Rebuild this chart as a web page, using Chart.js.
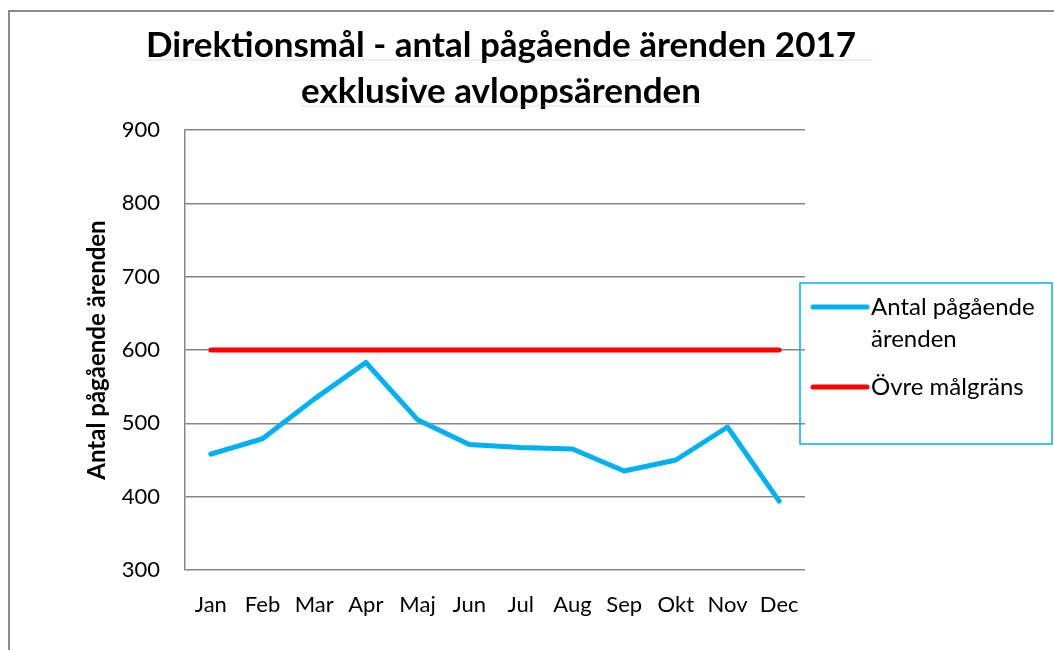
<!DOCTYPE html>
<html>
<head>
<meta charset="utf-8">
<script src="https://cdn.jsdelivr.net/npm/chart.js@4/dist/chart.umd.min.js"></script>
<style>
  html, body { margin: 0; padding: 0; background: #fff; }
  #wrap { width: 1054px; height: 650px; position: relative; }
</style>
</head>
<body>
<div id="wrap"><canvas id="arenden-chart"></canvas></div>
<script>
const months = ['Jan', 'Feb', 'Mar', 'Apr', 'Maj', 'Jun', 'Jul', 'Aug', 'Sep', 'Okt', 'Nov', 'Dec'];
const antalPagaende = [458, 479, 533, 583, 505, 471, 467, 465, 435, 450, 495, 394];
const ovreMalgrans = [600, 600, 600, 600, 600, 600, 600, 600, 600, 600, 600, 600];
const titleLines = ['Direktionsmål - antal pågående ärenden 2017', 'exklusive avloppsärenden'];
const yTitle = 'Antal pågående ärenden';

const FONT = 'Lato, Calibri, "Open Sans", sans-serif';

// white background + the grey frame around the whole chart
const framePlugin = {
  id: 'frame',
  beforeDraw(chart) {
    const ctx = chart.ctx;
    ctx.save();
    ctx.fillStyle = '#fff';
    ctx.fillRect(0, 0, chart.width, chart.height);
    ctx.strokeStyle = '#8c8c8c';
    ctx.lineWidth = 2;
    ctx.beginPath();
    ctx.moveTo(9, chart.height);
    ctx.lineTo(9, 11);
    ctx.lineTo(chart.width, 11);
    ctx.stroke();
    ctx.restore();
  }
};

// two line title, centred a bit left of the canvas centre (the chart's own title squeezes it)
const titlePlugin = {
  id: 'bigTitle',
  afterDraw(chart) {
    const ctx = chart.ctx;
    const cx = 501;
    ctx.save();
    ctx.font = 'bold 35px ' + FONT;
    ctx.fillStyle = '#000';
    ctx.textAlign = 'center';
    ctx.textBaseline = 'alphabetic';
    titleLines.forEach((t, i) => {
      const by = 57 + i * 46;
      ctx.fillText(t, cx, by);
      // faint spell-check underline seen in the original
      const tw = ctx.measureText(t).width;
      ctx.strokeStyle = 'rgba(230,120,120,0.35)';
      ctx.lineWidth = 1;
      ctx.beginPath();
      ctx.moveTo(cx - tw / 2, by + 3);
      ctx.lineTo(cx + tw / 2 + (i === 0 ? 16 : 0), by + 3);
      ctx.stroke();
    });
    ctx.restore();
  }
};

// legend box to the right, with word wrapped labels
const boxLegend = {
  id: 'boxLegend',
  afterDraw(chart) {
    const ctx = chart.ctx;
    const a = chart.chartArea;
    const x = a.right - 5, y = 283, w = 252, h = 161;
    ctx.save();
    ctx.strokeStyle = '#00b0f0';
    ctx.lineWidth = 1.5;
    ctx.strokeRect(x, y, w, h);
    ctx.font = '24px ' + FONT;
    ctx.fillStyle = '#000';
    ctx.textBaseline = 'middle';
    let ly = y + 24;
    chart.data.datasets.forEach(ds => {
      ctx.strokeStyle = ds.borderColor;
      ctx.lineWidth = 5;
      ctx.lineCap = 'round';
      ctx.beginPath();
      ctx.moveTo(x + 13, ly);
      ctx.lineTo(x + 67, ly);
      ctx.stroke();
      // wrap words
      const words = ds.label.split(' ');
      const lines = [];
      let cur = '';
      words.forEach(wd => {
        const t = cur ? cur + ' ' + wd : wd;
        if (ctx.measureText(t).width > w - 76 && cur) { lines.push(cur); cur = wd; }
        else cur = t;
      });
      lines.push(cur);
      lines.forEach((ln, i) => ctx.fillText(ln, x + 71, ly + i * 32));
      ly += lines.length * 32 + 16;
    });
    ctx.restore();
  }
};

new Chart(document.getElementById('arenden-chart'), {
  type: 'line',
  data: {
    labels: months,
    datasets: [
      {
        label: 'Antal pågående ärenden',
        data: antalPagaende,
        borderColor: '#00b0f0',
        borderWidth: 5,
        borderCapStyle: 'round',
        borderJoinStyle: 'round',
        pointRadius: 0,
        tension: 0
      },
      {
        label: 'Övre målgräns',
        data: ovreMalgrans,
        borderColor: '#ff0000',
        borderWidth: 5,
        borderCapStyle: 'round',
        pointRadius: 0
      }
    ]
  },
  options: {
    responsive: true,
    maintainAspectRatio: false,
    animation: false,
    layout: { padding: { left: 0, right: 249, top: 130, bottom: 0 } },
    plugins: {
      legend: { display: false },
      tooltip: { enabled: false },
      title: { display: false }
    },
    scales: {
      x: {
        offset: true,
        grid: { display: false, drawTicks: false },
        border: { display: false },
        ticks: { color: '#000', font: { family: FONT, size: 22 }, padding: 22, maxRotation: 0 },
        afterFit(scale) { scale.height = 80; }
      },
      y: {
        min: 300,
        max: 900,
        ticks: { stepSize: 100, color: '#000', font: { family: FONT, size: 22 }, padding: 25 },
        grid: { color: '#868686', lineWidth: 1.5, drawTicks: false },
        border: { display: true, color: '#868686', width: 1.5 },
        title: {
          display: true,
          text: yTitle,
          color: '#000',
          font: { family: FONT, size: 24, weight: 'bold' },
          padding: { top: 83, bottom: 0 }
        },
        afterFit(scale) { scale.width = 185; }
      }
    }
  },
  plugins: [framePlugin, titlePlugin, boxLegend]
});
</script>
</body>
</html>
